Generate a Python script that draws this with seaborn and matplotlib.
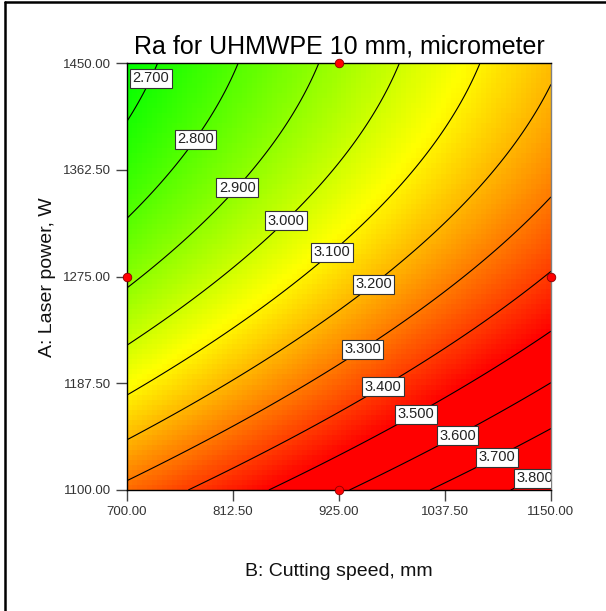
import numpy as np
import pandas as pd
import matplotlib
matplotlib.use("Agg")
import matplotlib.pyplot as plt
from matplotlib.colors import LinearSegmentedColormap
from matplotlib.lines import Line2D
import seaborn as sns

# ---------------- data ----------------
speed_range = [700.0, 1150.0]          # B: Cutting speed
power_range = [1100.0, 1450.0]         # A: Laser power
x_ticks = [700.0, 812.5, 925.0, 1037.5, 1150.0]
y_ticks = [1100.0, 1187.5, 1275.0, 1362.5, 1450.0]

# quadratic response model in coded units (a = laser power, b = cutting speed)
coef_intercept = 3.145
coef_a = -0.331
coef_b = 0.263
coef_ab = 0.0
coef_aa = 0.111
coef_bb = 0.0

contour_levels = [2.7, 2.8, 2.9, 3.0, 3.1, 3.2, 3.3, 3.4, 3.5, 3.6, 3.7, 3.8]
label_speed = [719, 766, 811, 863, 912, 956, 945, 968, 1003, 1047, 1089, 1129]
label_power = [1440, 1391, 1352, 1325, 1300, 1274, 1221, 1190, 1167, 1150, 1132, 1116]

design_speed = [925.0, 700.0, 1150.0, 925.0]
design_power = [1450.0, 1275.0, 1275.0, 1100.0]

color_low, color_high = 2.66, 3.50
title = "Ra for UHMWPE 10 mm, micrometer"
xlabel = "B: Cutting speed, mm"
ylabel = "A: Laser power, W"

# ---------------- styling ----------------
sns.set_style("white")
plt.rcParams["font.family"] = ["Liberation Sans", "DejaVu Sans"]

W, H = 606, 611
fig = plt.figure(figsize=(W / 100, H / 100), dpi=100)
ax = fig.add_axes([127 / W, 1 - 490 / H, 424 / W, 427 / H])


def response(B, A):
    a = (A - np.mean(power_range)) / (np.diff(power_range)[0] / 2)
    b = (B - np.mean(speed_range)) / (np.diff(speed_range)[0] / 2)
    return (coef_intercept + coef_a * a + coef_b * b + coef_ab * a * b
            + coef_aa * a ** 2 + coef_bb * b ** 2)


cmap = LinearSegmentedColormap.from_list(
    "de", [(0.0, (0, 1, 0)), (0.5, (1, 1, 0)), (1.0, (1, 0, 0))])

# blocky colour fill
nb = 85
be = np.linspace(speed_range[0], speed_range[1], nb + 1)
pe = np.linspace(power_range[0], power_range[1], nb + 1)
bc = 0.5 * (be[:-1] + be[1:])
pc = 0.5 * (pe[:-1] + pe[1:])
BB, PP = np.meshgrid(bc, pc)
ax.pcolormesh(be, pe, response(BB, PP), cmap=cmap, vmin=color_low,
              vmax=color_high, shading="flat", rasterized=True)

# smooth contour lines
bf = np.linspace(speed_range[0], speed_range[1], 300)
pf = np.linspace(power_range[0], power_range[1], 300)
BF, PF = np.meshgrid(bf, pf)
cs = ax.contour(BF, PF, response(BF, PF), levels=contour_levels,
                colors="black", linewidths=0.8)
ax.clabel(cs, contour_levels, inline=False, fmt="%.3f", fontsize=10.5,
          manual=list(zip(label_speed, label_power)))
for t in ax.texts:
    t.set_rotation(0)
    t.set_color("#222222")
    t.set_bbox(dict(facecolor="white", edgecolor="#333333", linewidth=0.8,
                    boxstyle="square,pad=0.17"))

# design points
pts = pd.DataFrame({"speed": design_speed, "power": design_power})
sns.scatterplot(data=pts, x="speed", y="power", ax=ax, color="red",
                edgecolor="#8b0000", linewidth=0.6, s=38, zorder=10,
                clip_on=False, legend=False)

ax.set_xlim(speed_range)
ax.set_ylim(power_range)
ax.set_xticks(x_ticks)
ax.set_yticks(y_ticks)
ax.set_xticklabels([f"{v:.2f}" for v in x_ticks])
ax.set_yticklabels([f"{v:.2f}" for v in y_ticks])
ax.tick_params(axis="both", which="major", direction="out", length=8,
               width=1, color="#444444", labelsize=9.5, labelcolor="#333333",
               left=True, bottom=True, top=False, right=False, pad=3.5)
ax.set_xlabel("")
ax.set_ylabel("")
for side in ["left", "bottom", "top"]:
    ax.spines[side].set_visible(True)
    ax.spines[side].set_color("black")
    ax.spines[side].set_linewidth(1.0)
ax.spines["right"].set_visible(True)
ax.spines["right"].set_color("#808080")
ax.spines["right"].set_linewidth(1.0)

ax.set_title(title, fontsize=18, color="black", pad=7)
fig.text(339 / W, 1 - 572 / H, xlabel, ha="center", va="center", fontsize=14,
         color="#111111")
fig.text(48 / W, 1 - 277 / H, ylabel, ha="center", va="center", fontsize=14,
         rotation=90, color="#111111")

# outer frame (left and top edges visible)
fig.add_artist(Line2D([5 / W, 5 / W], [0, 1 - 2 / H], transform=fig.transFigure,
                      color="black", linewidth=1.8))
fig.add_artist(Line2D([5 / W, 1], [1 - 2 / H, 1 - 2 / H], transform=fig.transFigure,
                      color="black", linewidth=1.8))

fig.savefig("out.png", dpi=100, facecolor="white")
